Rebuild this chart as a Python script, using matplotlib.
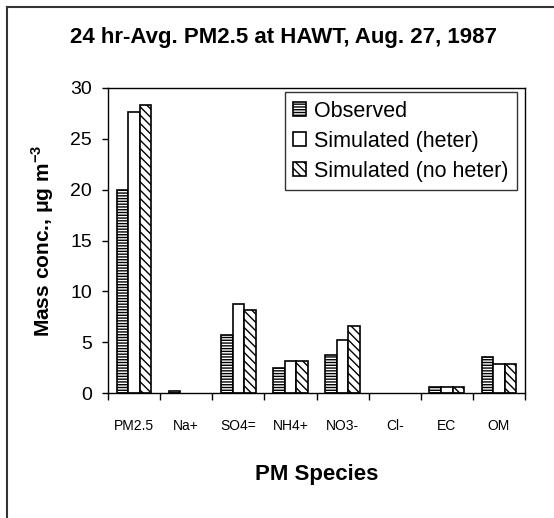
import matplotlib
matplotlib.use("Agg")
import matplotlib.pyplot as plt
import numpy as np
from matplotlib.lines import Line2D

plt.rcParams['font.family'] = ['Liberation Sans', 'DejaVu Sans']
plt.rcParams['mathtext.fontset'] = 'custom'
plt.rcParams['mathtext.rm'] = 'Liberation Sans'
plt.rcParams['mathtext.bf'] = 'Liberation Sans:bold'
plt.rcParams['hatch.linewidth'] = 1.0

species = ["PM2.5", "Na+", "SO4=", "NH4+", "NO3-", "Cl-", "EC", "OM"]
observed = [20.0, 0.15, 5.7, 2.5, 3.7, 0.0, 0.55, 3.5]
sim_heter = [27.6, 0.0, 8.8, 3.1, 5.2, 0.0, 0.55, 2.9]
sim_noheter = [28.3, 0.0, 8.2, 3.1, 6.6, 0.0, 0.55, 2.9]
series_names = ["Observed", "Simulated (heter)", "Simulated (no heter)"]

W, H = 554, 518
fig = plt.figure(figsize=(W / 100, H / 100), dpi=100)
ax = fig.add_axes([108 / W, (H - 393) / H, (525 - 108) / W, (393 - 88) / H])

x = np.arange(len(species))
bw = 0.223
hatches = ['------', '', '\\\\\\\\']
for i, (vals, name, hatch) in enumerate(zip([observed, sim_heter, sim_noheter], series_names, hatches)):
    # zero-valued bars are not drawn in the original
    lws = [1.2 if v > 0 else 0 for v in vals]
    ax.bar(x + (i - 1) * bw, vals, bw, facecolor='white', edgecolor='black',
           linewidth=lws, label=name, hatch=hatch)

ax.set_xlim(-0.5, len(species) - 0.5)
ax.set_ylim(0, 30)
ax.set_yticks(np.arange(0, 31, 5))
ax.tick_params(axis='y', direction='out', length=4.5, width=1, pad=7, labelsize=14)

# category boundary ticks, labels at centers
ax.set_xticks(np.arange(-0.5, len(species)), labels=[])
ax.tick_params(axis='x', which='major', direction='out', length=5, width=1)
ax.set_xticks(x, labels=species, minor=True)
ax.tick_params(axis='x', which='minor', length=0, pad=19, labelsize=10)

for s in ax.spines.values():
    s.set_linewidth(1.0)
    s.set_color('black')

ax.set_ylabel("Mass conc., μg m$^{\\mathbf{-3}}$", fontsize=15, fontweight='bold')
ax.yaxis.set_label_coords(-0.156, 0.5)
ax.yaxis.label.set_va('center')
ax.set_xlabel("PM Species", fontsize=16, fontweight='bold')
ax.xaxis.set_label_coords(0.5, -0.266)
ax.xaxis.label.set_va('center')

fig.text(283 / W, 1 - 37 / H, "24 hr-Avg. PM2.5 at HAWT, Aug. 27, 1987",
         ha='center', va='center', fontsize=16, fontweight='bold')

leg = ax.legend(loc='upper right', bbox_to_anchor=((517 - 108) / 417, 1 - 4 / 305),
                fontsize=15.5, frameon=True, fancybox=False, borderaxespad=0,
                handlelength=0.6, handleheight=0.6, handletextpad=0.35,
                labelspacing=0.42, borderpad=0.4)
leg.get_frame().set_edgecolor('black')
leg.get_frame().set_linewidth(1.0)
for h in leg.legend_handles:
    h.set_linewidth(1.2)

# outer chart border (left and top edges visible)
fig.add_artist(Line2D([7 / W, 7 / W], [0, 1 - 7 / H], color='#333333', linewidth=1.5))
fig.add_artist(Line2D([7 / W, 1], [1 - 7 / H, 1 - 7 / H], color='#333333', linewidth=1.5))

fig.savefig("out.png", dpi=100)
